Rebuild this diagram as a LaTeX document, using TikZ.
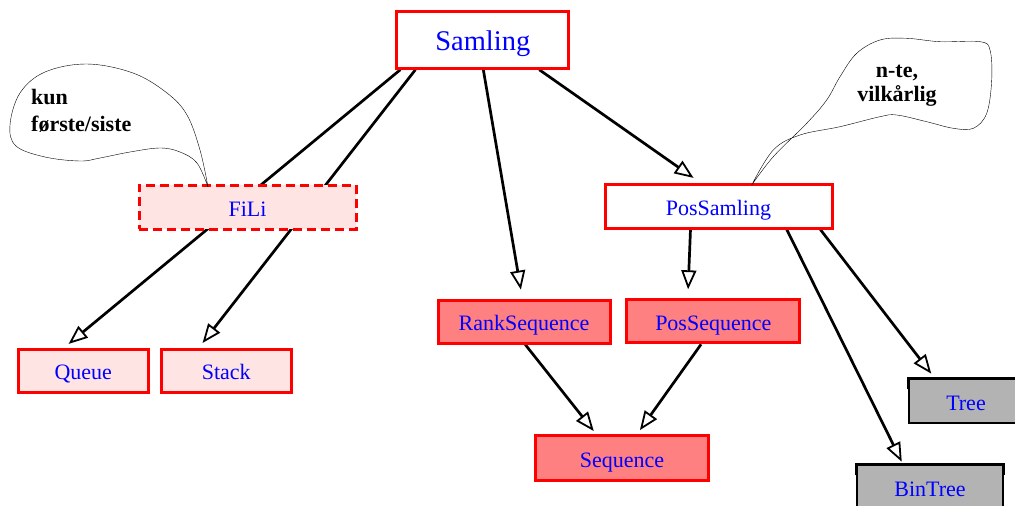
\documentclass[tikz,border=0pt]{standalone}
\usepackage{fontspec}
\setmainfont{Liberation Serif}
\usetikzlibrary{positioning}
\usetikzlibrary{arrows.meta}
\usetikzlibrary{backgrounds}

\definecolor{lyserod}{RGB}{255,228,228}
\definecolor{sterkrod}{RGB}{255,128,128}
\definecolor{graa}{RGB}{179,179,179}

\begin{document}
\begin{tikzpicture}[x=1pt, y=-1pt,
    klasse/.style={draw=red, line width=3pt, text=blue, inner sep=0pt,
      text height=20pt, text depth=2pt, font=\fontsize{22}{26}\selectfont},
    tre/.style={draw=black, line width=1.2pt, fill=graa, text=blue, inner sep=0pt,
      text height=20pt, text depth=2pt, font=\fontsize{22}{26}\selectfont},
    pil/.style={-{Triangle[open, length=19pt, width=15pt, line width=1.8pt]}, line width=2.7pt, shorten >=6pt},
    boble/.style={inner sep=0pt, font=\fontsize{22}{27}\selectfont\bfseries}]
              \useasboundingbox (0,0) rectangle (1015,506);
              % Noder
              \node[klasse, fill=white, minimum width=172pt, minimum height=57pt,
                text height=24pt, text depth=2.4pt, font=\fontsize{28.5}{32}\selectfont] (samling) at (482.8,39.7) {Samling};
              \node[klasse, fill=lyserod, dash pattern=on 9pt off 5pt,
                minimum width=217pt, minimum height=44pt] (fili) at (247.5,207) {FiLi};
              \node[klasse, fill=white, minimum width=227pt, minimum height=44pt] (possamling) at (718.5,206) {PosSamling};
              \node[klasse, fill=sterkrod, minimum width=172pt, minimum height=43pt] (rankseq) at (524,321.5) {RankSequence};
              \node[klasse, fill=sterkrod, minimum width=173pt, minimum height=43pt] (posseq) at (713.3,321.3) {PosSequence};
              \node[klasse, fill=sterkrod, minimum width=173pt, minimum height=45pt] (sequence) at (622,458.2) {Sequence};
              \node[klasse, fill=lyserod, minimum width=130pt, minimum height=43pt] (queue) at (83.3,370.7) {Queue};
              \node[klasse, fill=lyserod, minimum width=130pt, minimum height=43pt] (stack) at (226.3,370.7) {Stack};
              \node[tre, minimum width=114pt, minimum height=44pt] (tree) at (966,401) {Tree};
              \node[tre, minimum width=146pt, minimum height=44pt] (bintree) at (930,487) {BinTree};
              \draw[line width=3pt] ([yshift=-11pt]tree.north west) -- (tree.north west) -- (tree.north east);
              \draw[line width=3pt] ([yshift=-11pt]bintree.north west) -- (bintree.north west)
                -- (bintree.north east) -- ([yshift=-11pt]bintree.north east);

              % Bobler
              \draw[thin] plot[smooth, tension=0.6] coordinates {(208,187) (197,163) (180,152) (160,148)
                (130,152) (100,158) (80,161) (45,157) (16,146) (10,125) (20,93) (45,72) (87,64)
                (133,73) (167,93) (187,115) (200,150) (208,187)};
              \node[boble, anchor=west, align=left] (kun) at (31,111) {kun\\første/siste};
              \draw[thin] plot[smooth, tension=0.6] coordinates {(751.7,185) (773.3,156.7) (806.7,123.3)
                (826.7,100) (840,76.7) (856.7,53.3) (880,40) (906.7,38.3) (940,41.7) (980,41.7)
                (990,50) (991.7,80) (986.7,113.3) (973.3,128.3) (953.3,128.3) (926.7,121.7)
                (896.7,115) (880,116.7) (840,126.7) (800,135) (773.3,150) (751.7,185)};
              \node[boble, align=center, font=\fontsize{22}{24}\selectfont\bfseries] (nte) at (897,86) {n-te,\\vilkårlig};

              % Kanter
              \begin{pgfonlayer}{background}
              \draw[pil] (samling.200) -- (queue.130);
              \draw[pil] (samling.204) -- (stack.140);
              \draw[pil, shorten >=9pt] (samling.271) -- (rankseq.94);
              \draw[pil, shorten >=8pt] (samling.-28) -- (possamling.128);
              \draw[pil, shorten >=9pt] (possamling.220) -- (posseq.138);
              \draw[pil, shorten >=3pt] (possamling.-19) -- (bintree.140);
              \draw[pil] (possamling.-13) -- (tree.144);
              \draw[pil, shorten >=4pt] (rankseq.-87) -- (sequence.137);
              \draw[pil, shorten >=5pt] (posseq.242) -- (sequence.58);
              \end{pgfonlayer}
            \end{tikzpicture}
\end{document}
